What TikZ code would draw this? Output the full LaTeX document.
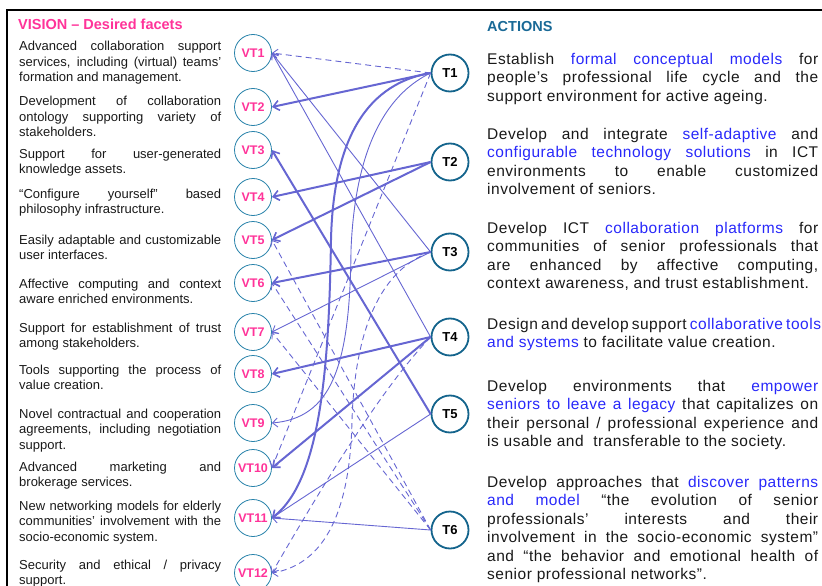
\documentclass[tikz,border=0pt]{standalone}
\usepackage{fontspec}
\setmainfont{Liberation Sans}
\newfontfamily\rfont[LetterSpace=3.3]{Liberation Sans}
\usetikzlibrary{arrows.meta}
\definecolor{pinkc}{RGB}{255,51,153}
\definecolor{vtc}{RGB}{40,130,170}
\definecolor{tc}{RGB}{20,100,140}
\definecolor{lc}{RGB}{102,102,210}
\definecolor{hl}{RGB}{40,40,250}
\definecolor{txt}{RGB}{25,25,25}
\definecolor{acc}{RGB}{25,105,150}
\newcommand\jln[1]{\hbox to 202pt{#1}}
\newcommand\jrn[1]{\hbox to 331pt{#1}}
\newcommand\hlt[1]{\textcolor{hl}{#1}}
\tikzset{
  vt/.style={circle,draw=vtc,line width=0.8pt,minimum size=37pt,inner sep=0pt,
    text=pinkc,font=\bfseries\fontsize{12.5}{12.5}\selectfont},
  tn/.style={circle,draw=tc,line width=1.8pt,minimum size=37pt,inner sep=0pt,
    text=black,font=\bfseries\fontsize{13}{13}\selectfont},
  ltext/.style={anchor=base west,inner sep=0pt,text=txt,font=\fontsize{13}{15.5}\selectfont},
  rtext/.style={anchor=base west,inner sep=0pt,text=txt,font=\rfont\fontsize{15.5}{18.4}\selectfont},
  thk/.style={draw=lc,line width=2pt,-{Straight Barb[length=6pt,width=10pt,line width=1.6pt]}},
  thn/.style={draw=lc,line width=0.9pt,-{Straight Barb[length=5pt,width=9pt,line width=0.9pt]}},
  dsh/.style={draw=lc,line width=0.9pt,dash pattern=on 6pt off 4pt,-{Straight Barb[length=5pt,width=9pt,line width=0.9pt]}},
}
\begin{document}
\begin{tikzpicture}[x=1pt,y=-1pt]
\useasboundingbox (0,0) rectangle (822,586);
\draw[line width=2pt] (7,586) -- (7,10.5) -- (822,10.5);

% titles
\node[anchor=base west,inner sep=0pt,text=pinkc,font=\bfseries\fontsize{14.5}{14.5}\selectfont] (vtitle) at (18,30) {VISION -- Desired facets};
\node[anchor=base west,inner sep=0pt,text=acc,font=\bfseries\fontsize{14.5}{14.5}\selectfont] (atitle) at (487,32) {ACTIONS};

% left texts
\node[ltext] (l1) at (19,51) {\vtop{\baselineskip=15.5pt\jln{Advanced collaboration support}\jln{services, including (virtual) teams’}\hbox{formation and management.}}};
\node[ltext] (l2) at (19,106) {\vtop{\baselineskip=15.5pt\jln{Development of collaboration}\jln{ontology supporting variety of}\hbox{stakeholders.}}};
\node[ltext] (l3) at (19,158) {\vtop{\baselineskip=15.5pt\jln{Support for user-generated}\hbox{knowledge assets.}}};
\node[ltext] (l4) at (19,198) {\vtop{\baselineskip=15.5pt\jln{“Configure yourself” based}\hbox{philosophy infrastructure.}}};
\node[ltext] (l5) at (19,244) {\vtop{\baselineskip=15.5pt\jln{Easily adaptable and customizable}\hbox{user interfaces.}}};
\node[ltext] (l6) at (19,288) {\vtop{\baselineskip=15.5pt\jln{Affective computing and context}\hbox{aware enriched environments.}}};
\node[ltext] (l7) at (19,332) {\vtop{\baselineskip=15.5pt\jln{Support for establishment of trust}\hbox{among stakeholders.}}};
\node[ltext] (l8) at (19,374) {\vtop{\baselineskip=15.5pt\jln{Tools supporting the process of}\hbox{value creation.}}};
\node[ltext] (l9) at (19,418) {\vtop{\baselineskip=15.5pt\jln{Novel contractual and cooperation}\jln{agreements, including negotiation}\hbox{support.}}};
\node[ltext] (l10) at (19,471) {\vtop{\baselineskip=15.5pt\jln{Advanced marketing and}\hbox{brokerage services.}}};
\node[ltext] (l11) at (19,510) {\vtop{\baselineskip=15.5pt\jln{New networking models for elderly}\jln{communities’ involvement with the}\hbox{socio-economic system.}}};
\node[ltext] (l12) at (19,569) {\vtop{\baselineskip=15.5pt\jln{Security and ethical / privacy}\hbox{support.}}};

% right texts
\node[rtext] (r1) at (487,64.5) {\vtop{\baselineskip=18.4pt\jrn{Establish \hlt{formal conceptual models} for}\jrn{people’s professional life cycle and the}\hbox{support environment for active ageing.}}};
\node[rtext] (r2) at (487,139.5) {\vtop{\baselineskip=18.4pt\jrn{Develop and integrate \hlt{self-adaptive} and}\jrn{\hlt{configurable technology solutions} in ICT}\jrn{environments to enable customized}\hbox{involvement of seniors.}}};
\node[rtext] (r3) at (487,233.5) {\vtop{\baselineskip=18.4pt\jrn{Develop ICT \hlt{collaboration platforms} for}\jrn{communities of senior professionals that}\jrn{are enhanced by affective computing,}\hbox{context awareness, and trust establishment.}}};
\node[rtext] (r4) at (487,329.5) {\vtop{\baselineskip=18.4pt\jrn{Design and develop support \hlt{collaborative tools}}\hbox{\hlt{and systems} to facilitate value creation.}}};
\node[rtext] (r5) at (487,391.5) {\vtop{\baselineskip=18.4pt\jrn{Develop environments that \hlt{empower}}\jrn{\hlt{seniors to leave a legacy} that capitalizes on}\jrn{their personal / professional experience and}\hbox{is usable and \ transferable to the society.}}};
\node[rtext] (r6) at (487,487.5) {\vtop{\baselineskip=18.4pt\jrn{Develop approaches that \hlt{discover patterns}}\jrn{\hlt{and model} “the evolution of senior}\jrn{professionals’ interests and their}\jrn{involvement in the socio-economic system”}\jrn{and “the behavior and emotional health of}\hbox{senior professional networks”.}}};

% VT nodes
\foreach \i/\y in {1/53,2/107,3/150,4/197,5/240,6/283,7/332,8/374,9/423,10/468,11/518,12/573}
  \node[vt] (VT\i) at (253,\y) {VT\i};
% T nodes
\foreach \i/\y in {1/73,2/162,3/252,4/337,5/414,6/530}
  \node[tn] (T\i) at (450,\y) {T\i};

% strong links
\draw[thk] (T1.west) -- (VT2.east);
\draw[thk] (T1.west) .. controls (360,85) and (333,150) .. (331,240) .. controls (329,360) and (322,480) .. (VT11.east);
\draw[thk] (T2.west) -- (VT4.east);
\draw[thk] (T2.west) -- (VT5.east);
\draw[thk] (T3.west) -- (VT6.east);
\draw[thk] (T4.west) -- (VT8.east);
\draw[thk] (T4.west) -- (VT10.east);
\draw[thk] (T5.west) -- (VT3.east);
% medium links
\draw[thn] (T3.west) -- (VT1.east);
\draw[thn] (T4.west) -- (VT1.east);
\draw[thn] (T3.west) -- (VT7.east);
\draw[thn] (T5.west) -- (VT11.east);
\draw[thn] (T6.west) -- (VT11.east);
\draw[thn] (T1.west) .. controls (385,95) and (355,150) .. (351,250) .. controls (350,370) and (330,418) .. (VT9.east);
% weak links
\draw[dsh] (T1.west) -- (VT1.east);
\draw[dsh] (T1.west) -- (VT10.east);
\draw[dsh] (T6.west) -- (VT5.east);
\draw[dsh] (T6.west) -- (VT6.east);
\draw[dsh] (T6.west) -- (VT7.east);
\draw[dsh] (T3.west) .. controls (380,270) and (355,330) .. (352,420) .. controls (350,520) and (320,565) .. (VT12.east);
\draw[dsh] (T4.west) .. controls (380,390) and (320,490) .. (VT12.east);
\end{tikzpicture}
\end{document}
